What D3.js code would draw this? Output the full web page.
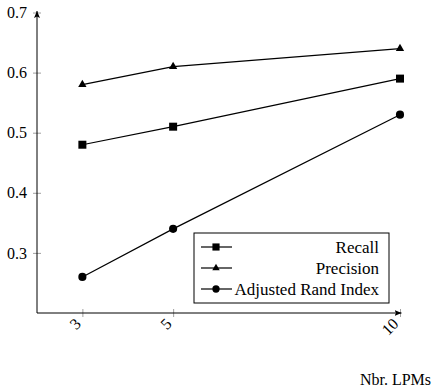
<!DOCTYPE html>
<html>
<head>
<meta charset="utf-8">
<script src="https://cdn.jsdelivr.net/npm/d3@7"></script>
<style>
  body { margin: 0; background: #fff; }
</style>
</head>
<body>
<div id="chart"></div>
<script>
// number of LPMs on the x axis
var lpms = [3, 5, 10]
// one list of scores per series
var recall = [0.48, 0.51, 0.59]
var precision = [0.58, 0.61, 0.64]
var ari = [0.26, 0.34, 0.53]
var seriesNames = ['Recall', 'Precision', 'Adjusted Rand Index']
var xTicks = [3, 5, 10]
var yTicks = [0.3, 0.4, 0.5, 0.6, 0.7]

var W = 436, H = 390
var margin = {top: 12.5, right: 36, bottom: 77, left: 37}
var serif = "'Liberation Serif'"

var x = d3.scaleLinear().domain([2, 10]).range([margin.left, W - margin.right])
var y = d3.scaleLinear().domain([0.2, 0.7]).range([H - margin.bottom, margin.top])

var series = [
  { name: seriesNames[0], vals: recall, sym: d3.symbolSquare, size: 64 },
  { name: seriesNames[1], vals: precision, sym: d3.symbolTriangle, size: 30 },
  { name: seriesNames[2], vals: ari, sym: d3.symbolCircle, size: 52 }
]

const svg = d3.select('#chart').append('svg')
  .attr('width', W)
  .attr('height', H)

svg.append('defs').append('marker')
  .attr('id', 'arrow')
  .attr('viewBox', '0 -4 8 8')
  .attr('refX', 7).attr('refY', 0)
  .attr('markerWidth', 8).attr('markerHeight', 8)
  .attr('markerUnits', 'userSpaceOnUse')
  .attr('orient', 'auto')
  .append('path')
  .attr('d', 'M0,-3L7,0L0,3L1.5,0Z')
  .attr('fill', '#000')

// y axis
const yAxis = svg.append('g')
  .attr('transform', `translate(${x(2)},0)`)
  .call(d3.axisLeft(y).tickValues(yTicks).tickSize(4).tickPadding(6).tickFormat(d3.format('.1f')))
yAxis.select('.domain').remove()
yAxis.selectAll('.tick line').attr('x1', 4).attr('stroke', '#888').attr('stroke-width', 0.8)
yAxis.selectAll('.tick text')
  .style('font-family', serif).style('font-size', '16px')

// x axis
const xAxis = svg.append('g')
  .attr('transform', `translate(0,${y(0.2)})`)
  .call(d3.axisBottom(x).tickValues(xTicks).tickSize(4))
xAxis.select('.domain').remove()
xAxis.selectAll('.tick line').attr('y1', -4).attr('stroke', '#888').attr('stroke-width', 0.8)
xAxis.selectAll('.tick text')
  .style('font-family', serif).style('font-size', '16px')
  .attr('y', 0).attr('dy', '0.35em')
  .attr('text-anchor', 'end')
  .attr('transform', 'translate(-5,8) rotate(-45)')

// axis lines with arrows
svg.append('line')
  .attr('x1', x(2)).attr('x2', x(2))
  .attr('y1', y(0.2)).attr('y2', y(0.7) - 1.5)
  .attr('stroke', '#000').attr('stroke-width', 1)
  .attr('marker-end', 'url(#arrow)')
svg.append('line')
  .attr('x1', x(2)).attr('x2', x(10) + 1.5)
  .attr('y1', y(0.2)).attr('y2', y(0.2))
  .attr('stroke', '#000').attr('stroke-width', 1)
  .attr('marker-end', 'url(#arrow)')

svg.append('text')
  .attr('x', 431).attr('y', 385)
  .attr('text-anchor', 'end')
  .style('font-family', serif).style('font-size', '16px')
  .text('Nbr. LPMs')

// lines + markers
const line = d3.line().x((d, i) => x(lpms[i])).y(d => y(d))
series.forEach(s => {
  svg.append('path')
    .attr('d', line(s.vals))
    .attr('fill', 'none')
    .attr('stroke', '#000')
    .attr('stroke-width', 1.2)
  svg.selectAll(null)
    .data(s.vals)
    .enter().append('path')
    .attr('d', d3.symbol().type(s.sym).size(s.size))
    .attr('transform', (d, i) => `translate(${x(lpms[i])},${y(d)})`)
    .attr('fill', '#000')
})

// legend
const lg = svg.append('g').attr('transform', 'translate(194,233)')
lg.append('rect')
  .attr('width', 195).attr('height', 70)
  .attr('fill', '#fff').attr('stroke', '#000').attr('stroke-width', 1)
series.forEach((s, i) => {
  const ry = 14 + i * 21
  lg.append('line')
    .attr('x1', 7).attr('x2', 38).attr('y1', ry).attr('y2', ry)
    .attr('stroke', '#000').attr('stroke-width', 1.2)
  lg.append('path')
    .attr('d', d3.symbol().type(s.sym).size(s.size * 0.8))
    .attr('transform', `translate(22,${ry})`)
  lg.append('text')
    .attr('x', 185).attr('y', ry).attr('dy', '0.35em')
    .attr('text-anchor', 'end')
    .style('font-family', serif).style('font-size', '17px')
    .text(s.name)
})
</script>
</body>
</html>
